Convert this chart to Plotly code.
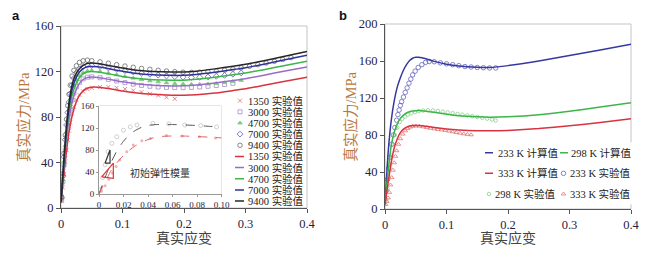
import plotly.graph_objects as go

# page is drawn with the browser's default 8px body margin, so the figure is 8px smaller
OFF = 8
W, H = 649 - OFF, 255 - OFF

# ---------------- Panel a data ----------------
calc_strain_a = [0, 0.005, 0.01, 0.015, 0.02, 0.025, 0.03, 0.035, 0.04, 0.045, 0.05, 0.06, 0.08, 0.1,
                 0.12, 0.15, 0.18, 0.2, 0.22, 0.25, 0.28, 0.3, 0.33, 0.36, 0.4]
calc_9400 = [5, 45, 78, 100, 112, 118.5, 122.5, 125, 126.5, 127.2, 127.4, 127, 125, 123, 121.3, 120, 119.5,
             119.6, 120.3, 122.3, 124.7, 126.3, 129.5, 133, 137.5]
calc_7000 = [5, 43, 75, 96, 108, 115, 119.5, 122, 123.6, 124.3, 124.5, 124.1, 122.2, 120.2, 118.5, 117.1,
             116.6, 116.7, 117.4, 119.3, 121.7, 123.3, 126.4, 129.9, 134.2]
calc_4700 = [5, 41, 71, 91, 103, 110, 114.7, 117.5, 119.1, 119.8, 120, 119.6, 117.7, 115.7, 114.1, 112.8,
             112.3, 112.4, 113.1, 114.9, 117.1, 118.7, 121.6, 124.9, 129]
calc_3000 = [5, 38, 66, 85, 97, 104.5, 109.5, 112.5, 114.2, 114.9, 115.1, 114.8, 112.9, 110.9, 109.3, 107.9,
             107.3, 107.4, 108.1, 109.9, 112.1, 113.7, 116.7, 120, 124]
calc_1350 = [5, 31, 55, 73, 85, 93.5, 99, 102.5, 104.6, 105.7, 106.2, 106.2, 104.8, 102.9, 101.4, 99.9,
             99.2, 99.1, 99.5, 101, 103.3, 104.9, 107.9, 111, 115]

exp_strain_a = [0.001, 0.003, 0.005, 0.007, 0.009, 0.011, 0.013, 0.015, 0.018, 0.021, 0.025, 0.03, 0.036,
                0.043, 0.05, 0.0635, 0.077, 0.0905, 0.104, 0.1175, 0.131, 0.1445, 0.158, 0.1715, 0.185,
                0.1985, 0.212, 0.2255, 0.239, 0.2525, 0.266, 0.2795, 0.293, 0.3065, 0.32, 0.3335, 0.347,
                0.3605, 0.374]
exp_9400 = [10, 30, 48, 64, 78, 90, 100, 108, 116, 121, 125, 128, 129.5, 130, 129.5, 128.5, 127.3, 126,
            124.8, 123.7, 122.7, 121.9, 121.1, 120.4, 119.8, 119.4, 119.2, 119.4, 119.8, 120.4, 121.2,
            122.2, 123.3, 124.6, 126, 127.5, 129, 130.6, 132.2]
exp_7000 = [9, 28, 45, 60, 73, 84, 93, 100.5, 108, 114, 119, 122.3, 124.5, 125.5, 125.3, 124.4, 123.2, 122,
            120.7, 119.5, 118.5, 117.6, 116.8, 116.1, 115.5, 115, 114.8, 114.9, 115.2, 115.8, 116.6,
            117.6, 118.7]
exp_4700 = [8, 25, 41, 55, 67, 77, 86, 93, 101, 107, 112.5, 116.3, 119, 120.5, 120.8, 120, 118.6, 117.1,
            115.6, 114.2, 112.9, 111.8, 110.9, 110.1, 109.5, 109, 108.7, 108.7, 109, 109.5, 110.2,
            111.1, 112.2]
exp_3000 = [7, 23, 38, 51, 62, 72, 80, 87, 95, 101, 106.5, 110.5, 113.5, 115, 115.3, 114.5, 113.1, 111.6,
            110.2, 108.9, 107.8, 107, 106.4, 106, 105.8, 105.8, 106, 106.4, 107, 107.7, 108.6, 109.6]
exp_1350 = [6, 18, 30, 41, 51, 60, 68, 75, 83, 89, 95, 99.5, 102.5, 104.5, 105.6, 106.4, 106.4, 105.7,
            104.6, 103.3, 101.9, 100.4, 98.9, 97.4, 96]

# inset
inset_calc_strain = [0, 0.005, 0.01, 0.015, 0.02, 0.025, 0.03, 0.035, 0.04, 0.045, 0.05, 0.06, 0.07,
                     0.08, 0.09, 0.1]
inset_calc_9400 = [0, 30, 58, 80, 96, 108, 116, 121.5, 124.5, 126, 126.5, 126.3, 125.5, 124.5, 123, 121.5]
inset_calc_1350 = [0, 22, 43, 58, 70, 80, 88, 94, 99, 102.5, 104.5, 105.5, 105.3, 104.5, 103.3, 102]
inset_exp_9400_strain = [0.001, 0.003, 0.005, 0.0075, 0.0105, 0.0145, 0.02, 0.0255, 0.031, 0.044, 0.057,
                         0.07, 0.083, 0.096]
inset_exp_9400 = [8, 30, 53, 77, 92, 104, 116, 122, 125.5, 128.5, 127.5, 125.5, 124.5, 122]
inset_exp_1350_strain = [0.002, 0.005, 0.008, 0.011, 0.014, 0.017, 0.0227, 0.028, 0.035, 0.042, 0.055,
                         0.068, 0.082, 0.095]
inset_exp_1350 = [5, 15, 27, 38, 50, 62, 77, 89, 97, 101, 106.5, 105.5, 104, 102]
tri_black_strain = [0.0049, 0.009, 0.009, 0.0049]
tri_black_stress = [56, 80, 56, 56]
tri_red_strain = [0.0022, 0.0117, 0.0117, 0.0022]
tri_red_stress = [31, 56, 28.5, 31]

# ---------------- Panel b data ----------------
calc_strain_b = [0, 0.005, 0.01, 0.015, 0.02, 0.025, 0.03, 0.035, 0.04, 0.045, 0.05, 0.055, 0.06, 0.07,
                 0.08, 0.1, 0.12, 0.15, 0.17, 0.2, 0.25, 0.3, 0.35, 0.4]
calc_233 = [5, 60, 95, 117, 132, 142, 150, 156, 160.5, 163, 164, 164, 163.4, 161.6, 159.6, 156.6, 154.6,
            153.2, 153, 155, 160, 166, 172, 178]
calc_298 = [5, 40, 68, 83, 92, 98, 101.5, 103.8, 105.2, 105.9, 106.3, 106.4, 106.2, 105.4, 104.5, 102.4,
            100.8, 99.6, 99.3, 99.8, 102, 105.8, 110.2, 115]
calc_333 = [5, 28, 50, 66, 76, 82.5, 86.3, 88.5, 89.7, 90.2, 90.4, 90.3, 90, 89.2, 88.2, 86.6, 85.5,
            84.6, 84.5, 85, 87, 90, 93.5, 97.5]

exp_strain_233 = [0.002, 0.004, 0.006, 0.008, 0.011, 0.0135, 0.016, 0.019, 0.021, 0.023, 0.025, 0.027,
                  0.03, 0.033, 0.036, 0.039, 0.042, 0.045, 0.049, 0.054, 0.06, 0.066, 0.072, 0.08, 0.09,
                  0.1, 0.11, 0.12, 0.13, 0.14, 0.15, 0.16, 0.17, 0.18]
exp_233 = [20, 32, 44, 56, 70, 80, 88, 96, 102, 107, 112, 116, 121, 126, 131, 136, 140.5, 145, 149, 153,
           156, 158.5, 159.5, 159.2, 158, 157, 156, 155, 154, 153.5, 153, 152.7, 152.5, 152.5]
exp_strain_298 = [0.002, 0.004, 0.006, 0.008, 0.01, 0.013, 0.016, 0.02, 0.024, 0.028, 0.0325, 0.037,
                  0.043, 0.049, 0.055, 0.062, 0.07, 0.078, 0.086, 0.094, 0.102, 0.11, 0.118, 0.126,
                  0.134, 0.142, 0.15, 0.158, 0.166, 0.174, 0.18]
exp_298 = [10, 22, 35, 48, 58, 70, 80, 88, 94, 97.5, 100, 102, 103.5, 104.8, 105.8, 106.5, 106.8, 106.6,
           106, 105.3, 104.5, 103.6, 102.8, 102, 101.2, 100.3, 99.5, 98.6, 97.7, 96.7, 95.8]
exp_strain_333 = [0.001, 0.003, 0.005, 0.007, 0.009, 0.011, 0.013, 0.015, 0.017, 0.019, 0.022, 0.025,
                  0.029, 0.033, 0.037, 0.041, 0.045, 0.05, 0.056, 0.062, 0.068, 0.074, 0.08, 0.086,
                  0.092, 0.098, 0.104, 0.11, 0.116, 0.122, 0.128, 0.134, 0.14]
exp_333 = [5, 8, 12, 18, 26, 34, 42, 50, 57, 63, 70, 76, 81, 84.5, 87, 88.5, 89.5, 89.8, 89.5, 88.8, 88,
           87.3, 86.7, 86, 85.5, 85, 84.3, 83.5, 82.7, 82, 81.3, 80.7, 80.2]

x_ticks_a = [0, 0.1, 0.2, 0.3, 0.4]
x_ticklabels = ["0", "0.1", "0.2", "0.3", "0.4"]
y_ticks_a = [0, 40, 80, 120, 160]
y_ticks_b = [0, 40, 80, 120, 160, 200]
inset_x_ticks = [0, 0.02, 0.04, 0.06, 0.08, 0.10]
inset_x_ticklabels = ["0", "0.02", "0.04", "0.06", "0.08", "0.10"]
inset_y_ticks = [0, 40, 80, 120, 160]

x_title = "真实应变"
y_title = "真实应力/MPa"
inset_note = "初始弹性模量"


def PX(p):  # page x pixel -> paper fraction
    return (p - OFF) / W


def PY(p):  # page y pixel -> paper fraction
    return 1 - (p - OFF) / H


# ---------------- styles ----------------
SERIF = "'Liberation Serif', 'Noto Sans CJK SC', serif"
C_RED, C_PUR, C_GRN, C_BLU, C_BLK = "#d8333f", "#9a6cc8", "#3db54a", "#2f3296", "#262626"

fig = go.Figure()


def line(x, y, color, xa, ya, width=1.5, dash=None):
    fig.add_trace(go.Scatter(x=x, y=y, mode="lines", xaxis=xa, yaxis=ya, showlegend=False,
                             line=dict(color=color, width=width, shape="spline", smoothing=0.6, dash=dash),
                             hoverinfo="skip"))


def marks(x, y, symbol, color, size, xa, ya, lw=0.8):
    fig.add_trace(go.Scatter(x=x, y=y, mode="markers", xaxis=xa, yaxis=ya, showlegend=False,
                             marker=dict(symbol=symbol, color=color, size=size, line=dict(color=color, width=lw)),
                             hoverinfo="skip"))


# panel a markers
ms_a = [
    (exp_1350, "x-thin", "#e86a6a", 4),
    (exp_3000, "square-open", "#a58ccc", 4),
    (exp_4700, "triangle-up", "#7acb7a", 4),
    (exp_7000, "diamond-open", "#5a5abb", 4.5),
    (exp_9400, "circle-open", "#6a6a6a", 4.5),
]
for vals, sym, col, sz in ms_a:
    marks(exp_strain_a[:len(vals)], vals, sym, col, sz, "x", "y")
calc_a = [(calc_1350, C_RED), (calc_3000, C_PUR), (calc_4700, C_GRN), (calc_7000, C_BLU), (calc_9400, C_BLK)]
for vals, col in calc_a:
    line(calc_strain_a, vals, col, "x", "y")

# inset
marks(inset_exp_9400_strain, inset_exp_9400, "circle-open", "#c4c4c4", 4, "x3", "y3")
marks(inset_exp_1350_strain, inset_exp_1350, "circle", "#f2b0b0", 3, "x3", "y3", lw=0)
line(inset_calc_strain, inset_calc_9400, "#555555", "x3", "y3", width=1, dash="dash")
line(inset_calc_strain, inset_calc_1350, "#e26060", "x3", "y3", width=1, dash="dash")
fig.add_trace(go.Scatter(x=tri_black_strain, y=tri_black_stress, mode="lines", xaxis="x3", yaxis="y3",
                         line=dict(color="#333333", width=1.2), showlegend=False, hoverinfo="skip"))
fig.add_trace(go.Scatter(x=tri_red_strain, y=tri_red_stress, mode="lines", xaxis="x3", yaxis="y3",
                         line=dict(color="#e03535", width=1.2), showlegend=False, hoverinfo="skip"))

# panel b
marks(exp_strain_233, exp_233, "circle-open", "#6464bd", 4.5, "x2", "y2")
marks(exp_strain_298, exp_298, "circle-open", "#8ad08a", 3.5, "x2", "y2")
marks(exp_strain_333, exp_333, "triangle-up-open", "#e47474", 4, "x2", "y2")
line(calc_strain_b, calc_233, "#3538a0", "x2", "y2")
line(calc_strain_b, calc_298, C_GRN, "x2", "y2")
line(calc_strain_b, calc_333, C_RED, "x2", "y2")

# ---------------- manual legends ----------------
legend_a = [
    ("1350 实验值", "m", "x-thin", "#e86a6a", 4),
    ("3000 实验值", "m", "square-open", "#a58ccc", 4),
    ("4700 实验值", "m", "triangle-up", "#7acb7a", 4),
    ("7000 实验值", "m", "diamond-open", "#5a5abb", 4.5),
    ("9400 实验值", "m", "circle-open", "#6a6a6a", 4.5),
    ("1350 实验值", "l", None, C_RED, 1.5),
    ("3000 实验值", "l", None, C_PUR, 1.5),
    ("4700 实验值", "l", None, C_GRN, 1.5),
    ("7000 实验值", "l", None, C_BLU, 1.5),
    ("9400 实验值", "l", None, C_BLK, 1.5),
]
annotations = []
LEG_FONT = dict(family=SERIF, size=10.5, color="#222222")
for i, (lab, kind, sym, col, sz) in enumerate(legend_a):
    if kind == "m":
        marks([240], [i], sym, col, sz, "x4", "y4")
    else:
        fig.add_trace(go.Scatter(x=[235, 244], y=[i, i], mode="lines", xaxis="x4", yaxis="y4",
                                 line=dict(color=col, width=sz), showlegend=False, hoverinfo="skip"))
    annotations.append(dict(x=246, y=i, xref="x4", yref="y4", text=lab, showarrow=False,
                            xanchor="left", yanchor="middle", font=LEG_FONT))

legend_b = [
    ("233 K 计算值", 0, 0, "l", None, "#3538a0", 1.5),
    ("298 K 计算值", 1, 0, "l", None, C_GRN, 1.5),
    ("333 K 计算值", 0, 1, "l", None, C_RED, 1.5),
    ("233 K 实验值", 1, 1, "m", "circle-open", "#6464bd", 4.5),
    ("298 K 实验值", 0, 2, "m", "circle-open", "#8ad08a", 3.5),
    ("333 K 实验值", 1, 2, "m", "triangle-up-open", "#e47474", 4),
]
col_x = [(485, 493, 489, 496), (560, 568, 563.5, 569)]
for lab, c, r, kind, sym, col, sz in legend_b:
    x0, x1, xm, xt = col_x[c]
    if kind == "m":
        marks([xm], [r], sym, col, sz, "x5", "y5")
        xt = xm + 4
    else:
        fig.add_trace(go.Scatter(x=[x0, x1], y=[r, r], mode="lines", xaxis="x5", yaxis="y5",
                                 line=dict(color=col, width=sz), showlegend=False, hoverinfo="skip"))
    annotations.append(dict(x=xt, y=r, xref="x5", yref="y5", text=lab, showarrow=False,
                            xanchor="left", yanchor="middle", font=LEG_FONT))

# ---------------- text ----------------
TITLE_COL = "#b9773d"


def ptext(xp, yp, text, font, angle=0):
    return dict(x=PX(xp), y=PY(yp), xref="paper", yref="paper", text=text, textangle=angle,
                showarrow=False, xanchor="center", yanchor="middle", font=font)


annotations += [
    ptext(16, 15, "<b>a</b>", dict(family="'Liberation Sans', sans-serif", size=13, color="#111")),
    ptext(343, 15, "<b>b</b>", dict(family="'Liberation Sans', sans-serif", size=13, color="#111")),
    ptext(23, 117, y_title, dict(family=SERIF, size=14.5, color=TITLE_COL), -90),
    ptext(350, 116.5, y_title, dict(family=SERIF, size=14.5, color=TITLE_COL), -90),
    ptext(184, 238, x_title, dict(family=SERIF, size=14, color="#444")),
    ptext(508, 238, x_title, dict(family=SERIF, size=14, color="#444")),
    dict(x=0.05, y=38, xref="x3", yref="y3", text=inset_note, showarrow=False, xanchor="center",
         yanchor="middle", font=dict(family=SERIF, size=10, color="#333")),
]

# ---------------- axes ----------------
TICKFONT = dict(family=SERIF, size=12.5, color="#1f2340")
base = dict(showgrid=False, zeroline=False, showline=True, linecolor="#555", linewidth=1,
            ticks="outside", ticklen=4, tickcolor="#555", tickfont=TICKFONT, fixedrange=True,
            automargin=False)
inset_base = dict(showgrid=False, zeroline=False, showline=True, linecolor="#999", linewidth=1,
                  ticks="outside", ticklen=2, tickcolor="#999",
                  tickfont=dict(family=SERIF, size=9, color="#1f2340"), fixedrange=True, automargin=False)
hidden = dict(visible=False, fixedrange=True, showgrid=False, zeroline=False)

fig.update_layout(
    width=W, height=H, autosize=False, margin=dict(l=0, r=0, t=0, b=0, pad=0),
    paper_bgcolor="white", plot_bgcolor="white", showlegend=False,
    xaxis=dict(base, domain=[PX(61), PX(307)], range=[0, 0.4], tickvals=x_ticks_a, ticktext=x_ticklabels,
               anchor="y"),
    yaxis=dict(base, domain=[PY(208), PY(26)], range=[0, 160], tickvals=y_ticks_a, anchor="x"),
    xaxis2=dict(base, domain=[PX(385), PX(631)], range=[0, 0.4], tickvals=x_ticks_a, ticktext=x_ticklabels,
                anchor="y2"),
    yaxis2=dict(base, domain=[PY(209), PY(24)], range=[0, 200], tickvals=y_ticks_b, anchor="x2"),
    xaxis3=dict(inset_base, domain=[PX(99), PX(221.5)], range=[0, 0.10], tickvals=inset_x_ticks,
                ticktext=inset_x_ticklabels, anchor="y3"),
    yaxis3=dict(inset_base, domain=[PY(194), PY(106)], range=[0, 160], tickvals=inset_y_ticks,
                anchor="x3"),
    xaxis4=dict(hidden, domain=[PX(230), PX(300)], range=[230, 300], anchor="y4"),
    yaxis4=dict(hidden, domain=[PY(206.6), PY(95.1)], range=[9.5, -0.5], anchor="x4"),
    xaxis5=dict(hidden, domain=[PX(480), PX(635)], range=[480, 635], anchor="y5"),
    yaxis5=dict(hidden, domain=[PY(204.3), PY(142.4)], range=[2.5, -0.5], anchor="x5"),
    annotations=annotations,
    shapes=[
        dict(type="rect", xref="x domain", yref="y domain", x0=0, x1=1, y0=0, y1=1,
             line=dict(color="#c4c4c4", width=1), layer="below"),
        dict(type="rect", xref="x2 domain", yref="y2 domain", x0=0, x1=1, y0=0, y1=1,
             line=dict(color="#c4c4c4", width=1), layer="below"),
        dict(type="rect", xref="x3 domain", yref="y3 domain", x0=0, x1=1, y0=0, y1=1,
             line=dict(color="#cccccc", width=1), fillcolor="white", layer="below"),
    ],
)

fig.write_html("out.html")
